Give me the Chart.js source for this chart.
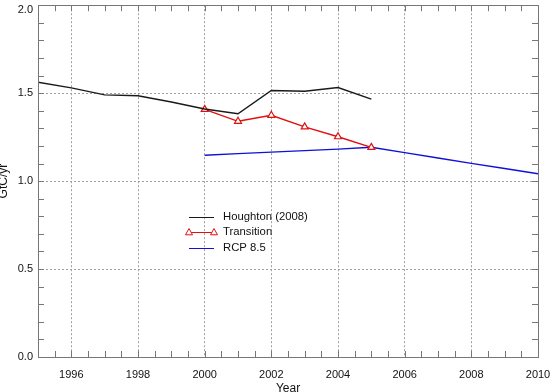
<!DOCTYPE html>
<html>
<head>
<meta charset="utf-8">
<script src="https://cdn.jsdelivr.net/npm/chart.js@4.4.1/dist/chart.umd.min.js"></script>
<style>
html,body{margin:0;padding:0;background:#fff;}
#wrap{width:556px;height:392px;position:relative;}
</style>
</head>
<body>
<div id="wrap"><canvas id="c" width="556" height="392"></canvas></div>
<script>
// ---- data ----
const years = [1995,1996,1997,1998,1999,2000,2001,2002,2003,2004,2005,2006,2007,2008,2009,2010];
const houghton = [1.562,1.53,1.49,1.485,1.45,1.41,1.383,1.515,1.511,1.532,1.466,null,null,null,null,null];
const transition = [null,null,null,null,null,1.408,1.34,1.374,1.308,1.252,1.192,null,null,null,null,null];
const rcp85 = [null,null,null,null,null,1.147,1.156,1.165,1.173,1.182,1.192,1.162,1.131,1.101,1.072,1.042];
const seriesNames = ['Houghton (2008)','Transition','RCP 8.5'];
const xTickLabels = ['1996','1998','2000','2002','2004','2006','2008','2010'];
const yTickLabels = ['0.0','0.5','1.0','1.5','2.0'];
const xTitle = 'Year';
const yTitle = 'GtC/yr';

const FONT = "'Liberation Sans', Arial, Helvetica, sans-serif";
const TEXT = '#111';
const toPts = arr => years.map((y,i)=>({x:y,y:arr[i]})).filter(p=>p.y!==null);
const topLabel = yTickLabels[yTickLabels.length-1];

const ticksPlugin = {
  id:'ticksPlugin',
  afterDraw(chart){
    const {ctx, chartArea:a, scales:{x,y}} = chart;
    ctx.save();
    ctx.strokeStyle = '#777';
    ctx.lineWidth = 1;
    ctx.beginPath();
    for (let v = 1995; v <= 2010.001; v += 0.5) {
      const px = Math.round(x.getPixelForValue(v)) + 0.5;
      const len = 6;
      ctx.moveTo(px, a.bottom); ctx.lineTo(px, a.bottom - len);
      ctx.moveTo(px, a.top); ctx.lineTo(px, a.top + len);
    }
    for (let v = 0; v <= 2.0001; v += 0.1) {
      const py = Math.round(y.getPixelForValue(v)) + 0.5;
      const len = 6;
      ctx.moveTo(a.left, py); ctx.lineTo(a.left + len, py);
      ctx.moveTo(a.right, py); ctx.lineTo(a.right - len, py);
    }
    ctx.stroke();
    ctx.strokeRect(Math.round(a.left)+0.5, Math.round(a.top)+0.5, Math.round(a.right-a.left), Math.round(a.bottom-a.top));
    // top y label, kept inside the canvas
    ctx.fillStyle = TEXT;
    ctx.font = '11px ' + FONT;
    ctx.textAlign = 'right';
    ctx.textBaseline = 'middle';
    ctx.fillText(topLabel, a.left - 5, y.getPixelForValue(parseFloat(topLabel)) + 4.5);
    // axis titles
    ctx.font = '12px ' + FONT;
    ctx.textAlign = 'center';
    ctx.fillText(xTitle, (a.left + a.right)/2, 389);
    ctx.translate(4, (a.top + a.bottom)/2);
    ctx.rotate(-Math.PI/2);
    ctx.fillText(yTitle, 0, 0);
    ctx.restore();

    // legend drawn inside plot area
    ctx.save();
    const lx0 = x.getPixelForValue(1999.5) + 1, lx1 = x.getPixelForValue(2000.25) + 1;
    const rows = [217, 232, 248];
    chart.data.datasets.forEach((ds,i)=>{
      const ry = rows[i];
      ctx.strokeStyle = ds.borderColor;
      ctx.lineWidth = 1;
      ctx.beginPath(); ctx.moveTo(lx0, ry+0.5); ctx.lineTo(lx1, ry+0.5); ctx.stroke();
      if (ds.pointRadius > 0) {
        [lx0, lx1].forEach(px=>{
          const r = 3.5;
          ctx.beginPath();
          ctx.moveTo(px, ry - r);
          ctx.lineTo(px + r, ry + r*0.8);
          ctx.lineTo(px - r, ry + r*0.8);
          ctx.closePath();
          ctx.fillStyle = '#fff';
          ctx.fill();
          ctx.stroke();
        });
      }
      ctx.fillStyle = TEXT;
      ctx.font = '11.3px ' + FONT;
      ctx.textAlign = 'left';
      ctx.textBaseline = 'middle';
      ctx.fillText(seriesNames[i], 223, ry);
    });
    ctx.restore();
  }
};

new Chart(document.getElementById('c'), {
  type:'line',
  data:{
    datasets:[
      {label:seriesNames[0], data:toPts(houghton), borderColor:'#1a1a1a', borderWidth:1.4, pointRadius:0, tension:0},
      {label:seriesNames[1], data:toPts(transition), borderColor:'#e01010', borderWidth:1.4, pointRadius:4, pointStyle:'triangle', pointBackgroundColor:'rgba(255,255,255,1)', pointBorderColor:'#e01010', pointBorderWidth:1.2, tension:0},
      {label:seriesNames[2], data:toPts(rcp85), borderColor:'#1010d8', borderWidth:1.4, pointRadius:0, tension:0}
    ]
  },
  options:{
    responsive:false,
    animation:false,
    layout:{padding:{top:2, right:18, left:0, bottom:0}},
    plugins:{legend:{display:false}, tooltip:{enabled:false}},
    scales:{
      x:{
        type:'linear', min:1995, max:2010,
        afterBuildTicks(s){ s.ticks = years.filter(v=>v%2===0).map(v=>({value:v})); },
        afterFit(s){ s.height = 35; s.paddingLeft = 0; s.paddingRight = 0; },
        ticks:{
          autoSkip:false, maxRotation:0, padding:11,
          color:TEXT, font:{family:FONT, size:11},
          callback:(v)=> { const i = xTickLabels.indexOf(String(v)); return i>=0 ? xTickLabels[i] : ''; }
        },
        grid:{color:'#a0a0a0', lineWidth:1, drawTicks:false},
        border:{display:false, dash:[2,2]}
      },
      y:{
        type:'linear', min:0, max:2.0,
        afterBuildTicks(s){ s.ticks = yTickLabels.map(t=>({value:parseFloat(t)})); },
        afterFit(s){ s.width = 38; s.paddingTop = 0; s.paddingBottom = 0; },
        ticks:{
          padding:5, color:TEXT, font:{family:FONT, size:11},
          callback:(v)=> { const t = yTickLabels.find(t=>Math.abs(parseFloat(t)-v)<1e-6) || ''; return t === topLabel ? '' : t; }
        },
        grid:{color:'#a0a0a0', lineWidth:1, drawTicks:false},
        border:{display:false, dash:[2,2]}
      }
    }
  },
  plugins:[ticksPlugin]
});
</script>
</body>
</html>
